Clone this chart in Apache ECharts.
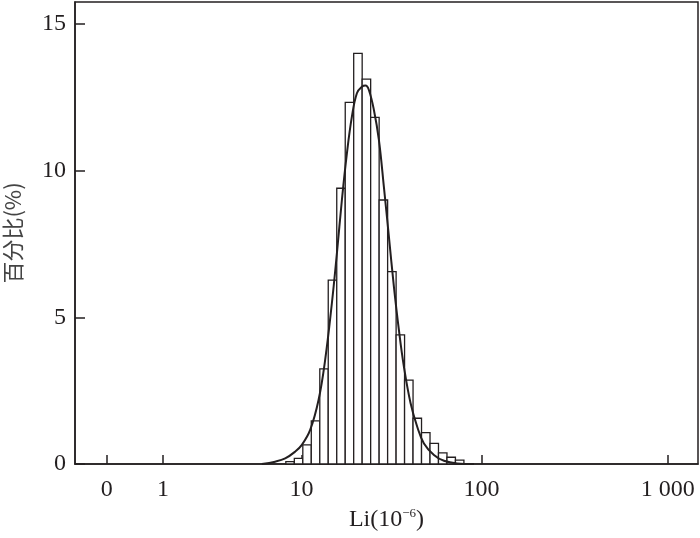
<!DOCTYPE html>
<html>
<head>
<meta charset="utf-8">
<script src="https://cdn.jsdelivr.net/npm/echarts@6/dist/echarts.min.js"></script>
<style>html,body{margin:0;padding:0;background:#fff}#c{width:700px;height:538px}</style>
</head>
<body>
<div id="c"></div>
<script>
// Histogram bin edges (Li, 10^-6) and percentages
var binEdges = [8.07, 9.07, 10.18, 11.41, 12.78, 14.29, 15.98, 17.85, 19.92, 22.22, 24.78, 27.62, 30.77, 34.27, 38.14, 42.45, 47.23, 52.55, 58.43, 64.98, 72.22, 80.29];
var percent = [0.08, 0.19, 0.65, 1.47, 3.24, 6.27, 9.40, 12.33, 14.0, 13.12, 11.82, 9.0, 6.56, 4.40, 2.86, 1.56, 1.07, 0.70, 0.38, 0.23, 0.13];
// Fitted curve
var curveLi = [5.75, 6.95, 8.0, 9.17, 10.05, 11.24, 12.57, 13.72, 14.99, 16.01, 17.09, 18.24, 19.46, 20.76, 22.14, 23.2, 24.22, 25.83, 27.53, 29.34, 31.27, 33.32, 35.50, 37.82, 41.16, 44.74, 48.68, 55.19, 62.56, 73.84, 90.97];
var curvePct = [0, 0.08, 0.19, 0.42, 0.65, 1.16, 2.18, 3.55, 5.48, 7.18, 9.0, 10.59, 11.84, 12.64, 12.86, 12.9, 12.75, 12.07, 11.05, 9.45, 7.75, 6.05, 4.57, 3.32, 2.07, 1.27, 0.70, 0.31, 0.11, 0.02, 0];
// Axis tick values (Li) and labels
var xTickLi = [0, 1, 10, 100, 1000];
var xTickLabels = ['0', '1', '10', '100', '1 000'];
var yTicks = [0, 5, 10, 15];

function toU(v) { return Math.log10(v + 1); }

var barData = [];
for (var i = 0; i < percent.length; i++) {
  barData.push([toU(binEdges[i]), toU(binEdges[i + 1]), percent[i]]);
}
var lineData = curveLi.map(function (v, i) { return [toU(v), curvePct[i]]; });
var xTickU = xTickLi.map(toU);
var labelMap = {};
xTickU.forEach(function (u, i) { labelMap[u.toFixed(6)] = xTickLabels[i]; });

var ink = '#231f20';
var font = 'Liberation Serif';
var chart = echarts.init(document.getElementById('c'));
chart.setOption({
  animation: false,
  backgroundColor: '#fff',
  grid: { left: 75, right: 2, top: 2, bottom: 74, show: true, borderColor: ink, borderWidth: 1.5,
    containLabel: false, outerBoundsMode: 'none' },
  xAxis: {
    type: 'value', min: -0.17, max: 3.162,
    name: 'Li(10{sup|−6})', nameLocation: 'middle', nameGap: 42,
    nameTextStyle: { fontFamily: font, fontSize: 24, color: ink,
      rich: { sup: { fontFamily: font, fontSize: 13, verticalAlign: 'top', padding: [0, 0, 13, 0], color: ink } } },
    axisLine: { show: true, onZero: false, lineStyle: { color: ink, width: 1.5 } },
    axisTick: { show: true, inside: true, length: 9, lineStyle: { color: ink, width: 1.5 }, customValues: xTickU },
    axisLabel: { fontFamily: font, fontSize: 24, color: ink, margin: 14, customValues: xTickU,
      formatter: function (v) { return labelMap[v.toFixed(6)] || ''; } },
    splitLine: { show: false }
  },
  yAxis: {
    type: 'value', min: 0, max: 15.75,
    name: '百分比(%)', nameLocation: 'middle', nameGap: 51, nameRotate: 90,
    nameTextStyle: { fontFamily: 'Noto Sans CJK SC', fontSize: 22, color: '#444' },
    axisLine: { show: true, onZero: false, lineStyle: { color: ink, width: 1.5 } },
    axisTick: { show: true, inside: true, length: 10, lineStyle: { color: ink, width: 1.5 }, customValues: yTicks },
    axisLabel: { fontFamily: font, fontSize: 24, color: ink, margin: 9, customValues: yTicks },
    splitLine: { show: false }
  },
  series: [
    {
      type: 'custom',
      data: barData,
      encode: { x: [0, 1], y: 2 },
      z: 2,
      renderItem: function (params, api) {
        var p0 = api.coord([api.value(0), 0]);
        var p1 = api.coord([api.value(1), api.value(2)]);
        return {
          type: 'rect',
          shape: { x: p0[0], y: p1[1], width: p1[0] - p0[0], height: p0[1] - p1[1] },
          style: { fill: '#fff', stroke: ink, lineWidth: 1.3 }
        };
      }
    },
    {
      type: 'line',
      data: lineData,
      smooth: 0.4,
      showSymbol: false,
      z: 3,
      lineStyle: { color: ink, width: 2 }
    }
  ]
});
</script>
</body>
</html>
